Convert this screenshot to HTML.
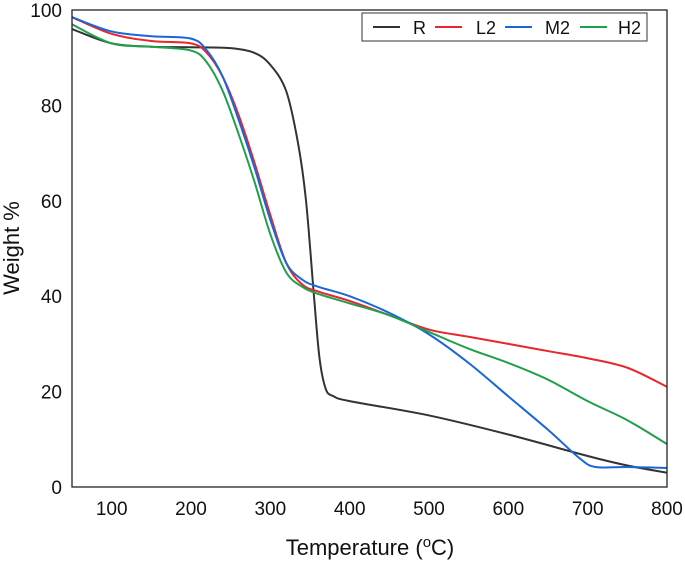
<!DOCTYPE html>
<html><head><meta charset="utf-8"><style>
body{margin:0;background:#fff}
svg{display:block;font-family:"Liberation Sans",Arial,sans-serif}
</style></head><body>
<svg id="chart" width="685" height="561">
<g id="plot"></g>
</svg>
<script>
const xTicks=[100,200,300,400,500,600,700,800];
const yTicks=[0,20,40,60,80,100];
const seriesNames=["R","L2","M2","H2"];
const seriesColors=["#333333","#e8262b","#1a66d9","#20a04a"];
const rX=[50,100,150,200,250,280,300,320,335,345,355,362,370,380,400,500,600,700,750,800];
const rY=[96,93,92.3,92.2,92,91,88.5,83,72,60,40,27,20.5,19,18,15,11,6.5,4.5,3];
const l2X=[50,100,150,200,220,240,260,280,300,320,340,360,400,450,500,550,600,650,700,750,800];
const l2Y=[98.5,95,93.5,93,91,86,78,68,57,47,42.5,41,39,36,33,31.5,30,28.5,27,25,21];
const m2X=[50,100,150,200,220,240,260,280,300,320,340,360,400,450,500,550,600,650,690,710,750,800];
const m2Y=[98.5,95.5,94.5,94,91.5,86,77,67,56,47,43.5,42,40,36.5,32,26,19,12,6,4.2,4.2,4];
const h2X=[50,100,150,200,220,240,260,280,300,320,340,360,400,450,500,550,600,650,700,750,800];
const h2Y=[97,93,92.3,91.5,89,83,74,64,53,45,42,40.5,38.5,36,32.5,29,26,22.5,18,14,9];
const allX=[rX,l2X,m2X,h2X], allY=[rY,l2Y,m2Y,h2Y];
const L=72,R=667,T=10,B=487;
const sx=v=>L+(v-50)/750*(R-L);
const sy=v=>B-v/100*(B-T);
const NS="http://www.w3.org/2000/svg";
const g=document.getElementById('plot');
function mk(t,a){const e=document.createElementNS(NS,t);for(const k in a)e.setAttribute(k,a[k]);g.appendChild(e);return e;}
function smooth(xs,ys){
  const p=xs.map((x,i)=>[sx(x),sy(ys[i])]);
  let d="M"+p[0][0]+","+p[0][1];
  for(let i=0;i<p.length-1;i++){
    const p0=p[i-1]||p[i],p1=p[i],p2=p[i+1],p3=p[i+2]||p2;
    const c1=[p1[0]+(p2[0]-p0[0])/6,p1[1]+(p2[1]-p0[1])/6];
    const c2=[p2[0]-(p3[0]-p1[0])/6,p2[1]-(p3[1]-p1[1])/6];
    d+=" C"+c1+" "+c2+" "+p2;
  }
  return d;
}
for(let s=0;s<4;s++){
  const e=mk('path',{d:smooth(allX[s],allY[s]),fill:'none',stroke:seriesColors[s],'stroke-width':2});
  
  
}
const fr=mk('rect',{x:L,y:T,width:R-L,height:B-T,fill:'none',stroke:'#222','stroke-width':1.3});


xTicks.forEach(v=>{
  const t=mk('text',{x:sx(v),y:515,'text-anchor':'middle','font-size':19,fill:'#111'});t.textContent=v;
  
  
});
yTicks.forEach(v=>{
  const t=mk('text',{x:62,y:sy(v)+7,'text-anchor':'end','font-size':19,fill:'#111'});t.textContent=v;
  
  
});
const xt=mk('text',{x:370,y:555,'text-anchor':'middle','font-size':22,fill:'#111'});
xt.innerHTML='Temperature (<tspan dy="-8" font-size="15">o</tspan><tspan dy="8">C)</tspan>';


const yt=mk('text',{x:19,y:248,'text-anchor':'middle','font-size':22,fill:'#111',transform:'rotate(-90 19 248)'});
yt.textContent='Weight %';


const lg=mk('rect',{x:362,y:13,width:285,height:28,fill:'#fff',stroke:'#333','stroke-width':1});


const lx=[373,435,505,580], tx=[413,476,545,618];
for(let s=0;s<4;s++){
  const l=mk('line',{x1:lx[s],x2:lx[s]+27,y1:27,y2:27,stroke:seriesColors[s],'stroke-width':2});
  
  
  const t=mk('text',{x:tx[s],y:34,'font-size':18,fill:'#111'});t.textContent=seriesNames[s];
  
  
}
</script>
</body></html>
